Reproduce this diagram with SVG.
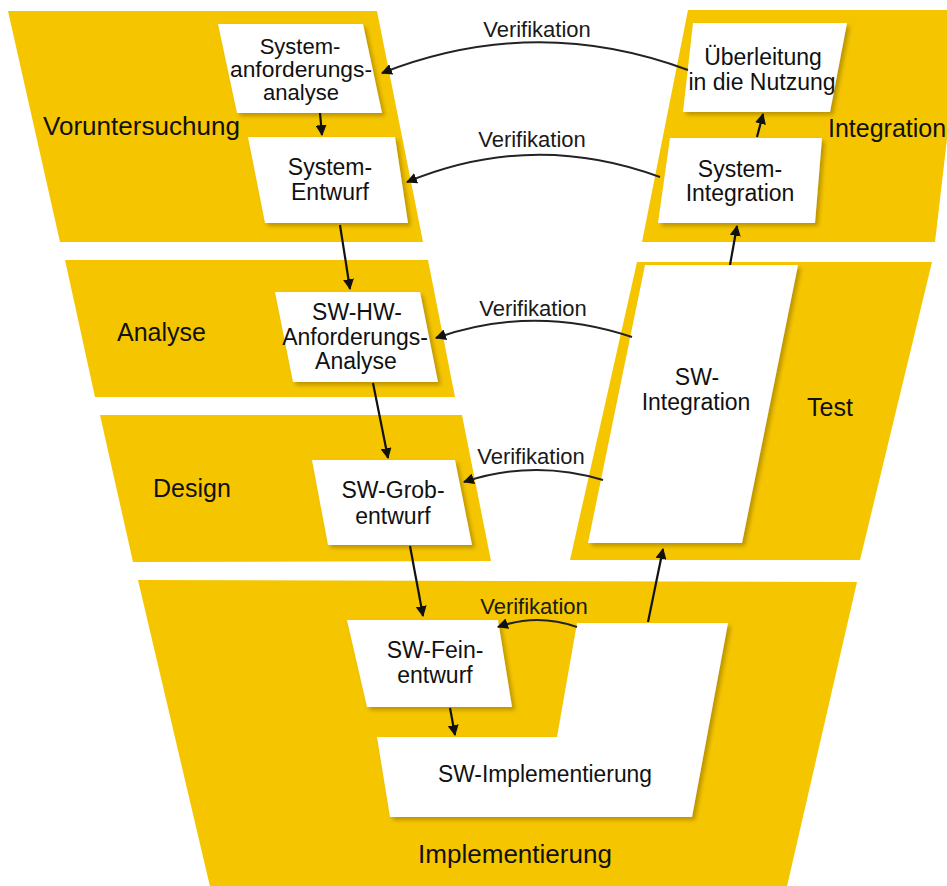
<svg xmlns="http://www.w3.org/2000/svg" width="947" height="886" viewBox="0 0 947 886">
  <defs>
    <style>
      .band { fill: #F5C600; }
      .box { fill: #FFFFFF; filter: url(#shadow); }
      .phase { font-family: "Liberation Sans", Arial, sans-serif; font-size: 25px; fill: #111; }
      .lbl { font-family: "Liberation Sans", Arial, sans-serif; font-size: 23px; fill: #111; text-anchor: middle; }
      .lbl.tight { font-size: 22px; }
      .verif { font-family: "Liberation Sans", Arial, sans-serif; font-size: 22px; fill: #1a1a1a; text-anchor: middle; }
      .flow { fill: none; stroke: #111; stroke-width: 2.2; marker-end: url(#arrow); }
      .check { fill: none; stroke: #222; stroke-width: 2; marker-end: url(#arrow); }
    </style>
    <filter id="shadow" x="-10%" y="-10%" width="130%" height="130%">
      <feDropShadow dx="3" dy="3" stdDeviation="2" flood-color="#8a6a00" flood-opacity="0.55"/>
    </filter>
    <marker id="arrow" viewBox="0 0 10 10" refX="9" refY="5" markerWidth="11" markerHeight="11" markerUnits="userSpaceOnUse" orient="auto">
      <path d="M0,0 L10,5 L0,10 Z" fill="#111"/>
    </marker>
  </defs>

  <!-- phase bands -->
  <g id="bands">
    <polygon class="band" points="8,11 377,11 423,242 60,242"/>
    <polygon class="band" points="688,10 962,10 935,242 642,242"/>
    <polygon class="band" points="65,260 428,260 455,397 95,397"/>
    <polygon class="band" points="100,415 462,415 491,561 133,562"/>
    <polygon class="band" points="637,262 932,262 860,560 570,560"/>
    <polygon class="band" points="138,580 857,582 785,895 212,895"/>
  </g>

  <!-- phase names -->
  <g id="phase-labels">
    <text class="phase" x="43" y="135" textLength="197" lengthAdjust="spacingAndGlyphs">Voruntersuchung</text>
    <text class="phase" x="828" y="137">Integration</text>
    <text class="phase" x="117" y="341">Analyse</text>
    <text class="phase" x="153" y="497">Design</text>
    <text class="phase" x="807" y="416">Test</text>
    <text class="phase" x="418" y="863" textLength="194" lengthAdjust="spacingAndGlyphs">Implementierung</text>
  </g>

  <!-- activity nodes -->
  <g id="node-systemanforderungsanalyse">
    <polygon class="box" points="218,24 363,24 382,113 237,113"/>
    <text class="lbl tight" x="300" y="54">System-</text>
    <text class="lbl tight" x="301" y="77" textLength="142" lengthAdjust="spacingAndGlyphs">anforderungs-</text>
    <text class="lbl tight" x="301" y="100">analyse</text>
  </g>
  <g id="node-systementwurf">
    <polygon class="box" points="248,137 395,137 408,223 265,223"/>
    <text class="lbl" x="330" y="175">System-</text>
    <text class="lbl" x="330" y="200">Entwurf</text>
  </g>
  <g id="node-ueberleitung">
    <polygon class="box" points="693,23 847,23 830,112 683,112"/>
    <text class="lbl" x="763" y="65">Überleitung</text>
    <text class="lbl" x="762" y="90">in die Nutzung</text>
  </g>
  <g id="node-systemintegration">
    <polygon class="box" points="670,138 822,138 815,223 658,223"/>
    <text class="lbl" x="740" y="177">System-</text>
    <text class="lbl" x="740" y="201">Integration</text>
  </g>
  <g id="node-sw-hw-anforderungsanalyse">
    <polygon class="box" points="275,292 420,292 438,382 293,382"/>
    <text class="lbl" x="357" y="320">SW-HW-</text>
    <text class="lbl" x="355" y="345">Anforderungs-</text>
    <text class="lbl" x="356" y="369">Analyse</text>
  </g>
  <g id="node-sw-grobentwurf">
    <polygon class="box" points="312,460 455,460 472,545 328,545"/>
    <text class="lbl" x="393" y="498">SW-Grob-</text>
    <text class="lbl" x="393" y="524">entwurf</text>
  </g>
  <g id="node-sw-integration">
    <polygon class="box" points="645,265 798,265 742,543 588,543"/>
    <text class="lbl" x="697" y="385">SW-</text>
    <text class="lbl" x="696" y="410">Integration</text>
  </g>
  <g id="node-sw-feinentwurf">
    <polygon class="box" points="347,620 498,620 512,707 367,707"/>
    <text class="lbl" x="435" y="658">SW-Fein-</text>
    <text class="lbl" x="435" y="683">entwurf</text>
  </g>
  <g id="node-sw-implementierung">
    <polygon class="box" points="577,623 728,623 692,817 390,817 377,737 557,737"/>
    <text class="lbl" x="545" y="782" textLength="214" lengthAdjust="spacingAndGlyphs">SW-Implementierung</text>
  </g>

  <!-- connectors -->
  <g id="connectors">
    <path class="flow" d="M320,113 L322,135"/>
    <path class="flow" d="M340,225 L350,289"/>
    <path class="flow" d="M373,383 L388,458"/>
    <path class="flow" d="M410,546 L423,616"/>
    <path class="flow" d="M450,708 L455,735"/>
    <path class="flow" d="M648,622 L663,549"/>
    <path class="flow" d="M730,265 L737,226"/>
    <path class="flow" d="M757,137 L763,114"/>

    <path class="check" d="M688,70 Q535,13 382,73"/>
    <path class="check" d="M660,177 Q533,130 407,182"/>
    <path class="check" d="M632,337 Q533,304 436,338"/>
    <path class="check" d="M603,480 Q533,459 464,482"/>
    <path class="check" d="M577,627 Q537,613 498,627"/>

    <text class="verif" x="537" y="37">Verifikation</text>
    <text class="verif" x="532" y="147">Verifikation</text>
    <text class="verif" x="533" y="316">Verifikation</text>
    <text class="verif" x="531" y="464">Verifikation</text>
    <text class="verif" x="534" y="614">Verifikation</text>
  </g>
</svg>
